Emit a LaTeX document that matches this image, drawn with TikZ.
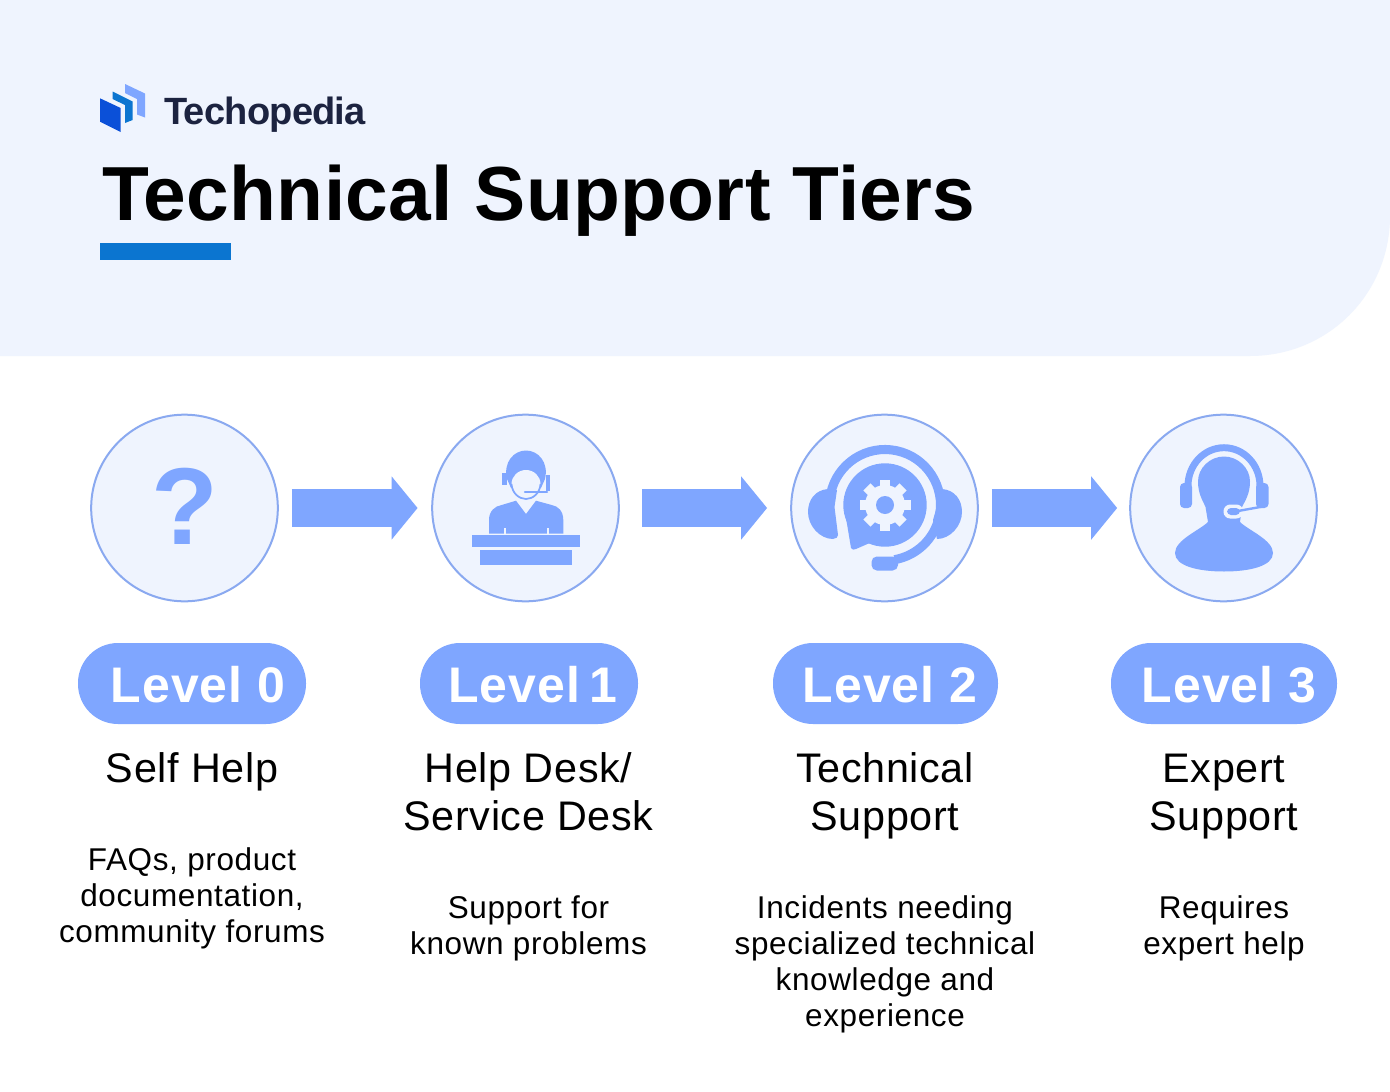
\documentclass[tikz,border=0pt]{standalone}
\usepackage{fontspec}
\usetikzlibrary{arrows.meta}
\setmainfont{Liberation Sans}
\newfontfamily\titlefont[LetterSpace=0.45]{Liberation Sans Bold}
\newfontfamily\logofont[LetterSpace=-2.0]{Liberation Sans Bold}
\newfontfamily\levelfont[LetterSpace=1.9]{Liberation Sans Bold}
\newfontfamily\headfont[LetterSpace=1.6]{Liberation Sans}
\newfontfamily\descfont[LetterSpace=2.0]{Liberation Sans}
\definecolor{panel}{HTML}{EFF4FE}
\definecolor{ring}{HTML}{8AA9F0}
\definecolor{tint}{HTML}{7FA6FF}
\definecolor{inkdark}{HTML}{1C2340}
\definecolor{barblue}{HTML}{0B75D0}
\definecolor{logoa}{HTML}{0B50D8}
\tikzset{
  x=0.75pt,y=-0.75pt,
  tier/.style={circle,draw=ring,fill=panel,line width=1.5pt,minimum size=140pt,inner sep=0pt},
  pill/.style={rounded corners=30pt,fill=tint},
  leveltext/.style={text=white,font=\levelfont\fontsize{37.5pt}{40pt}\selectfont,inner sep=0pt},
  headtext/.style={align=center,inner sep=0pt,font=\headfont\fontsize{31pt}{36pt}\selectfont},
  desctext/.style={align=center,inner sep=0pt,font=\descfont\fontsize{23.6pt}{27pt}\selectfont},
  flow/.style={draw=tint,line width=29pt,-{Triangle[length=19.5pt 0 0,width=46.5pt 0 0]}},
}
\begin{document}
\begin{tikzpicture}
\useasboundingbox (0,0) rectangle (1390,1092);
\fill[white] (0,0) rectangle (1390,1092);
% header
\fill[panel] (0,0) -- (1390,0) -- (1390,216) .. controls (1390,294) and (1328,356) .. (1250,356) -- (0,356) -- cycle;
% logo
\fill[tint] (125,84) -- (145,93.5) -- (145,117.5) -- (137,114.5) -- (137,99) -- (125,93) -- cycle;
\fill[barblue] (112.5,91.5) -- (132.7,101.5) -- (132.7,120) -- (125,123) -- (125,105) -- (112.5,99) -- cycle;
\fill[logoa] (100,98.3) -- (120.7,108) -- (120.7,132) -- (100,121.7) -- cycle;
\node[anchor=base west,inner sep=0pt,text=inkdark,font=\logofont\fontsize{28.5pt}{30pt}\selectfont] (logo) at (164,124) {Techopedia};
% title
\node[anchor=base west,inner sep=0pt,text=black,font=\titlefont\fontsize{57.5pt}{60pt}\selectfont] (title) at (102,220) {Technical Support Tiers};
\fill[barblue] (100,243) rectangle (231,260);
% circles
\node[tier] (c0) at (184.5,508) {};
\node[tier] (c1) at (525.5,508) {};
\node[tier] (c2) at (884.5,508) {};
\node[tier] (c3) at (1223.5,508) {};
% connectors
\draw[flow,shorten <=9.75pt,shorten >=10.2pt] (c0.east) -- (c1.west);
\draw[flow,shorten <=16.9pt,shorten >=17.3pt] (c1.east) -- (c2.west);
\draw[flow,shorten <=9.75pt,shorten >=9pt] (c2.east) -- (c3.west);
% icon 0
\node[text=tint,inner sep=0pt,font=\bfseries\fontsize{82pt}{82pt}\selectfont] (qmark) at (185,506) {?};
% icon 1: person at a desk
\fill[tint] (489,533.5) -- (489,520) .. controls (489,511) and (495,506) .. (501.7,505) -- (516,500.7) -- (526,514) -- (536,500.7) -- (551.7,505) .. controls (558,506) and (563.3,511) .. (563.3,520) -- (563.3,533.5) -- cycle;
\fill[panel] (503.5,528) rectangle (505.5,534);
\fill[panel] (546.5,528) rectangle (548.5,534);
\fill[tint] (507,479) .. controls (503,462) and (514,450.5) .. (526,450.5) .. controls (538,450.5) and (549,462) .. (545,479) -- (541,488) -- (511,488) -- cycle;
\fill[panel] (526,484) ellipse (14.5 and 14);
\draw[tint,line width=1.3pt] (511.5,484) .. controls (512,493) and (519,499) .. (526,499) .. controls (533,499) and (540,493) .. (540.5,484);
\fill[tint] (501.7,473) rectangle (506.7,485);
\fill[tint] (545.7,475) rectangle (550,491);
\draw[tint,line width=1.8pt,line cap=round] (525,491.7) -- (547,491.7);
\fill[tint] (472.3,535.3) rectangle (580,547.3);
\fill[tint] (480,550) rectangle (572,564.7);
% icon 2: headset and gear bubble
\fill[tint] (828,489) .. controls (815,490) and (808,500) .. (808,512) .. controls (808,526) and (820,539) .. (833,539) .. controls (836,539) and (838,537) .. (838,535) -- (834.5,507) -- (837,490) -- cycle;
\fill[tint] (942,489) .. controls (955,490) and (962,500) .. (962,512) .. controls (962,526) and (950,539) .. (937,539) -- (933,520) -- cycle;
\draw[tint,line width=6.8pt] (885,505) ++(192:55.5) arc[start angle=192,end angle=440,radius=55.5];
\fill[tint] (885,505) circle (41.7);
\fill[tint] (846,518) -- (851,548) .. controls (852,550) and (854,550) .. (856,549) -- (872,542) -- cycle;
\fill[tint,rounded corners=4pt] (871.5,556.5) -- (898,556.5) -- (898,570.5) -- (871.5,570.5) -- cycle;
\foreach \a in {0,45,...,315}{
  \fill[panel,rotate around={\a:(885,505)}] (880,479.5) rectangle (890,490);
}
\fill[panel] (885,505) circle (20);
\fill[tint] (885,505) circle (9);
% icon 3: agent with headset
\fill[tint] (1224,456.5) .. controls (1238,456.5) and (1250,468) .. (1250,481.5) .. controls (1250,494) and (1245,501) .. (1242,507) -- (1240,522) .. controls (1248,530) and (1273,540) .. (1273,553) .. controls (1273,566) and (1250,571.5) .. (1224,571.5) .. controls (1198,571.5) and (1175,566) .. (1175,553) .. controls (1175,540) and (1200,530) .. (1208,522) -- (1205.5,507) .. controls (1203,501) and (1198,494) .. (1198,481.5) .. controls (1198,468) and (1210,456.5) .. (1224,456.5) -- cycle;
\draw[tint,line width=5.2pt] (1188,486) arc[start angle=180,end angle=360,x radius=36,y radius=38.3];
\fill[tint,rounded corners=3pt] (1180,483) rectangle (1192,508);
\fill[tint,rounded corners=3pt] (1256,483) rectangle (1268.5,508);
\fill[panel,rounded corners=5pt] (1223.5,504.5) rectangle (1243,518.5);
\fill[tint,rounded corners=3pt] (1227,508) rectangle (1240,515);
\draw[tint,line width=1.8pt] (1238,511) -- (1263,506.5);
% pills
\fill[pill] (78,643) rectangle (306,724);
\fill[pill] (420,643) rectangle (638,724);
\fill[pill] (773,643) rectangle (998,724);
\fill[pill] (1111,643) rectangle (1337,724);
\node[leveltext,anchor=base] (l0) at (198,702) {Level 0};
\node[leveltext,anchor=base] (l1) at (533,702) {Level\kern-4pt\ 1};
\node[leveltext,anchor=base] (l2) at (890,702) {Level 2};
\node[leveltext,anchor=base] (l3) at (1229,702) {Level 3};
% headings
\node[headtext,anchor=base] (h0) at (192,782) {Self Help};
\node[headtext] (h1) at (528.5,792) {Help Desk/\\Service Desk};
\node[headtext] (h2) at (885,796) {Technical\\Support};
\node[headtext] (h3) at (1224,797) {Expert\\Support};
% descriptions
\node[desctext] (d0) at (192,898.5) {FAQs, product\\documentation,\\community forums};
\node[desctext] (d1) at (528.5,928.5) {Support for\\known problems};
\node[desctext] (d2) at (885,964.5) {Incidents needing\\specialized technical\\knowledge and\\experience};
\node[desctext] (d3) at (1224,928.5) {Requires\\expert help};
\end{tikzpicture}
\end{document}
